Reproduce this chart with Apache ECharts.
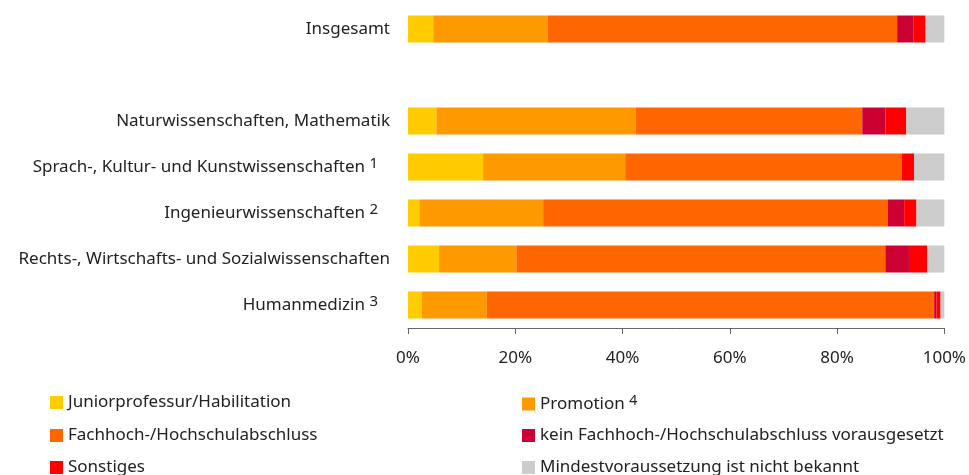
<!DOCTYPE html>
<html>
<head>
<meta charset="utf-8">
<script src="https://cdn.jsdelivr.net/npm/echarts@6/dist/echarts.min.js"></script>
<style>
    html, body { margin: 0; padding: 0; background: #fff; }
    #chart { width: 969px; height: 475px; }
</style>
</head>
<body>
<div id="chart"></div>
<script>
// Kategorien (von oben nach unten), leere Zeile als Abstand nach "Insgesamt"
const categories = [
    'Insgesamt',
    '',
    'Naturwissenschaften, Mathematik',
    'Sprach-, Kultur- und Kunstwissenschaften',
    'Ingenieurwissenschaften',
    'Rechts-, Wirtschafts- und Sozialwissenschaften',
    'Humanmedizin'
];
// Fußnoten je Kategorie
const footnotes = ['', '', '', '1', '2', '', '3'];

// Anteile in %
const junior   = [4.7, null, 5.3, 14.0, 2.1, 5.8, 2.6];
const promotion = [21.3, null, 37.1, 26.5, 23.1, 14.4, 12.1];
const fach     = [65.2, null, 42.3, 51.6, 64.3, 68.8, 83.4];
const kein     = [3.0, null, 4.3, 0, 3.0, 4.4, 0.4];
const sonstige = [2.3, null, 3.9, 2.3, 2.3, 3.4, 0.8];
const unbekannt = [3.5, null, 7.1, 5.6, 5.2, 3.2, 0.7];

const xTicks = [0, 20, 40, 60, 80, 100];

const seriesDefs = [
    { name: 'Juniorprofessur/Habilitation', data: junior, color: '#FFCC00' },
    { name: 'Promotion', data: promotion, color: '#FF9900' },
    { name: 'Fachhoch-/Hochschulabschluss', data: fach, color: '#FF6600' },
    { name: 'kein Fachhoch-/Hochschulabschluss vorausgesetzt', data: kein, color: '#CC0033' },
    { name: 'Sonstiges', data: sonstige, color: '#FF0000' },
    { name: 'Mindestvoraussetzung ist nicht bekannt', data: unbekannt, color: '#CCCCCC' }
];

// Legendenplätze: [Serienindex, x, y-Mitte]
const legendSlots = [
    [0, 50, 402], [2, 50, 435], [4, 50, 467],
    [1, 522, 402], [3, 522, 435], [5, 522, 467]
];

const FONT = 'Noto Sans';
const textColor = '#222';

const chart = echarts.init(document.getElementById('chart'));
const legendText = {
    fontFamily: FONT,
    fontSize: 17,
    color: textColor,
    rich: {
        sup: { fontFamily: FONT, fontSize: 14, color: textColor, padding: [0, 0, 6, 0] }
    }
};
const option = {
    animation: false,
    grid: { left: 408, top: 6, width: 537, height: 322, containLabel: false },
    xAxis: {
        type: 'value',
        min: 0,
        max: 100,
        interval: 20,
        axisLine: { show: true, lineStyle: { color: '#666', width: 1 } },
        axisTick: { show: true, length: 6, lineStyle: { color: '#666' } },
        splitLine: { show: false },
        axisLabel: {
            margin: 22,
            fontFamily: FONT,
            fontSize: 17,
            color: textColor,
            formatter: v => xTicks.includes(v) ? v + '%' : ''
        }
    },
    yAxis: {
        type: 'category',
        inverse: true,
        data: categories,
        axisLine: { show: false },
        axisTick: { show: false },
        axisLabel: {
            margin: 18,
            fontFamily: FONT,
            fontSize: 17,
            color: textColor,
            formatter: (v, i) => footnotes[i] ? v + ' {sup|' + footnotes[i] + '}{pad| }' : v,
            rich: {
                sup: { fontFamily: FONT, fontSize: 15, color: textColor, padding: [0, 0, 6, 0] },
                pad: { width: 12 }
            }
        }
    },
    legend: legendSlots.map(([si, x, cy]) => ({
        left: x,
        top: cy - 8,
        padding: 0,
        itemWidth: 13,
        itemHeight: 13,
        itemGap: 5,
        icon: 'rect',
        textStyle: legendText,
        formatter: n => n === 'Promotion' ? 'Promotion {sup|4}' : n,
        data: [seriesDefs[si].name]
    })),
    series: seriesDefs.map(s => ({
        name: s.name,
        type: 'bar',
        stack: 'total',
        barWidth: 27,
        data: s.data,
        itemStyle: { color: s.color },
        emphasis: { disabled: true }
    }))
};
chart.setOption(option);
</script>
</body>
</html>
